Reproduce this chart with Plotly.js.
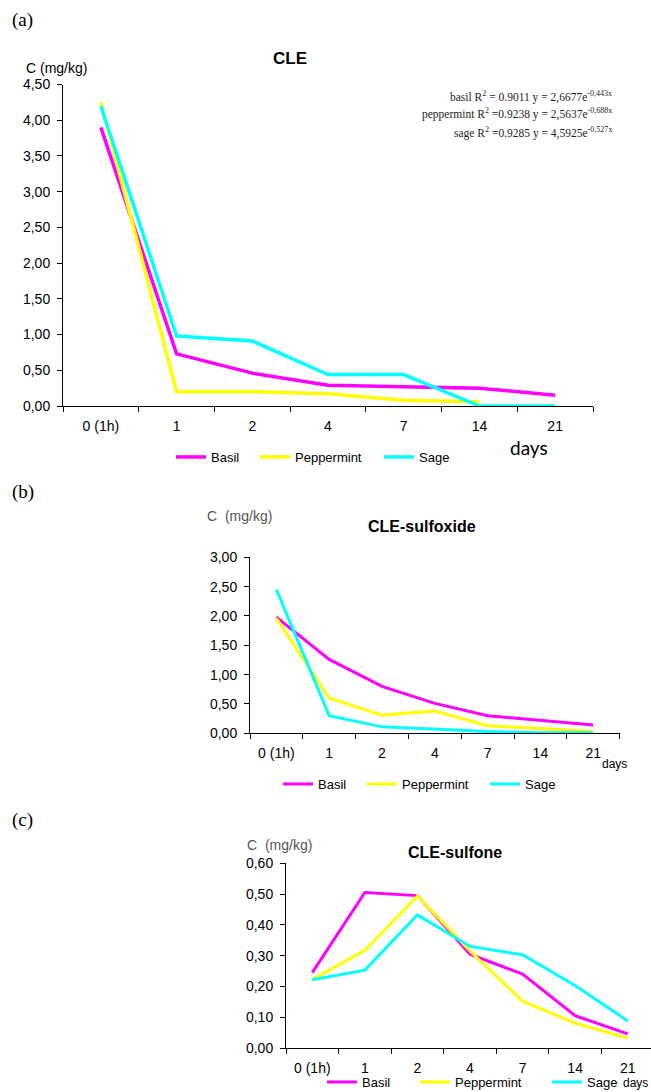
<!DOCTYPE html>
<html><head><meta charset="utf-8">
<script src="https://cdn.plot.ly/plotly-3.0.1.min.js"></script>
<style>html,body{margin:0;padding:0;background:#fff}#chart{width:651px;height:1092px}</style>
</head><body><div id="chart"></div>
<script>
// ---- data ----
const days = ['0 (1h)', '1', '2', '4', '7', '14', '21'];
const seriesNames = ['Basil', 'Peppermint', 'Sage'];

const cleBasil      = [3.90, 0.73, 0.46, 0.29, 0.27, 0.25, 0.15];
const clePeppermint = [4.25, 0.20, 0.20, 0.17, 0.08, 0.06, null];
const cleSage       = [4.20, 0.98, 0.91, 0.44, 0.44, 0.00, 0.00];

const soxBasil      = [1.98, 1.26, 0.80, 0.51, 0.30, 0.22, 0.14];
const soxPeppermint = [1.96, 0.60, 0.31, 0.38, 0.13, 0.08, 0.03];
const soxSage       = [2.45, 0.30, 0.11, 0.07, 0.03, 0.01, 0.01];

const sonBasil      = [0.245, 0.505, 0.495, 0.305, 0.240, 0.105, 0.046];
const sonPeppermint = [0.222, 0.317, 0.494, 0.315, 0.152, 0.081, 0.032];
const sonSage       = [0.222, 0.253, 0.432, 0.330, 0.303, 0.203, 0.088];

const equations = [
  'basil R<sup>2</sup> = 0.9011 y = 2,6677e<sup>-0,443x</sup>',
  'peppermint R<sup>2</sup> =0.9238 y = 2,5637e<sup>-0,688x</sup>',
  'sage R<sup>2</sup> =0.9285 y = 4,5925e<sup>-0,527x</sup>'
];

// ---- layout helpers ----
const W = 651, H = 1092;
const px = x => x / W;
const py = y => 1 - y / H;
const colors = ['#FF00FF', '#FFFF00', '#00FFFF'];
const SANS = 'Liberation Sans, Arial, sans-serif';

const panels = [
  {data: [cleBasil, clePeppermint, cleSage], x0: 63, x1: 593, yb: 406, yt: 84.5, range: [0, 4.5], dtick: 0.5,
   xr: [-0.5, 6.5], lw: 3.5, legY: 457, legX: [176, 260, 384]},
  {data: [soxBasil, soxPeppermint, soxSage], x0: 250, x1: 619.6, yb: 733.3, yt: 557.3, range: [0, 3], dtick: 0.5,
   xr: [-0.5, 6.5], lw: 3, legY: 784, legX: [283, 367, 490]},
  {data: [sonBasil, sonPeppermint, sonSage], x0: 286, x1: 651, yb: 1048, yt: 863.3, range: [0, 0.6], dtick: 0.1,
   xr: [-0.5, 6.5 - 3 / 52.6], lw: 3, legY: 1082, legX: [327, 420, 552]}
];

const traces = [];
const layout = {
  width: W, height: H,
  margin: {l: 0, r: 0, t: 0, b: 0, pad: 0, autoexpand: false},
  paper_bgcolor: '#fff', plot_bgcolor: 'rgba(0,0,0,0)',
  separators: ',.',
  showlegend: true,
  annotations: []
};

let legIdx = 0;
panels.forEach((p, i) => {
  const n = i === 0 ? '' : String(i + 1);
  const xa = 'x' + n, ya = 'y' + n;
  layout['xaxis' + n] = {
    domain: [px(p.x0), px(p.x1)], anchor: ya, type: 'category', range: p.xr,
    tickson: 'boundaries', ticks: 'outside', ticklen: 5, tickcolor: '#000', tickwidth: 1,
    ticklabelstandoff: 7, automargin: false,
    showline: true, linecolor: '#000', linewidth: 1, showgrid: false, zeroline: false,
    tickfont: {family: SANS, size: 14, color: '#000'}, fixedrange: true
  };
  layout['yaxis' + n] = {
    domain: [py(p.yb), py(p.yt)], anchor: xa, range: p.range, dtick: p.dtick, tick0: 0,
    tickformat: '.2f', ticks: 'outside', ticklen: 5, tickcolor: '#000', tickwidth: 1,
    ticklabelstandoff: 4, automargin: false,
    showline: true, linecolor: '#000', linewidth: 1, showgrid: false, zeroline: false,
    tickfont: {family: SANS, size: 14, color: '#000'}, fixedrange: true
  };
  p.data.forEach((vals, k) => {
    legIdx += 1;
    const lname = legIdx === 1 ? 'legend' : 'legend' + legIdx;
    traces.push({
      type: 'scatter', mode: 'lines', x: days, y: vals, name: seriesNames[k],
      xaxis: xa, yaxis: ya, legend: lname, connectgaps: false, cliponaxis: false,
      line: {color: colors[k], width: p.lw}, hoverinfo: 'skip'
    });
    layout[lname] = {
      x: px(p.legX[k] - 5), y: py(p.legY), xanchor: 'left', yanchor: 'middle',
      orientation: 'h', bgcolor: 'rgba(0,0,0,0)', borderwidth: 0,
      font: {family: SANS, size: 13, color: '#000'}
    };
  });
});

function ann(text, x, y, font, xanchor) {
  layout.annotations.push({text, xref: 'paper', yref: 'paper', x: px(x), y: py(y),
    xanchor: xanchor || 'center', yanchor: 'middle', showarrow: false, font});
}
// panel labels
const SERIF = 'Liberation Serif, DejaVu Serif, serif';
ann('(a)', 10, 20, {family: SERIF, size: 19, color: '#000'}, 'left');
ann('(b)', 10, 492, {family: SERIF, size: 19, color: '#000'}, 'left');
ann('(c)', 10, 820, {family: SERIF, size: 19, color: '#000'}, 'left');
// titles
ann('<b>CLE</b>', 290, 58, {family: SANS, size: 17, color: '#000'});
ann('<b>CLE-sulfoxide</b>', 422, 526, {family: SANS, size: 16, color: '#000'});
ann('<b>CLE-sulfone</b>', 455, 852, {family: SANS, size: 16, color: '#000'});
// y titles
ann('C (mg/kg)', 56.5, 68, {family: SANS, size: 14, color: '#000'});
ann('C\u00a0 (mg/kg)', 239.5, 516, {family: SANS, size: 14, color: '#555'});
ann('C\u00a0 (mg/kg)', 279.5, 845, {family: SANS, size: 14, color: '#555'});
// x titles
ann('days', 529, 447, {family: 'Lato, Open Sans, sans-serif', size: 19, color: '#000'});
ann('days', 614, 764, {family: SANS, size: 12, color: '#000'});
ann('days', 650, 1083, {family: SANS, size: 12, color: '#000'}, 'right');
// equations
[96, 114, 132].forEach((y, i) => ann(equations[i], 614, y, {family: SERIF, size: 11.5, color: '#222'}, 'right'));

Plotly.newPlot('chart', traces, layout, {staticPlot: true, displayModeBar: false});
</script>
</body></html>
